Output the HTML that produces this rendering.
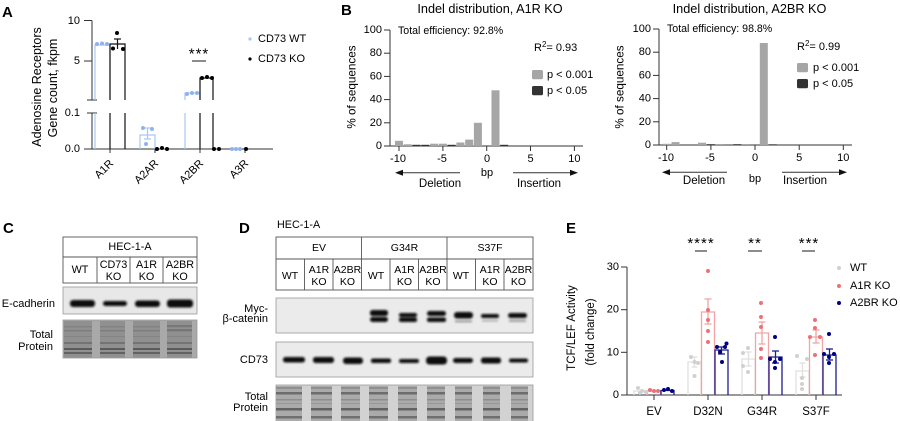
<!DOCTYPE html>
<html><head><meta charset="utf-8"><style>
html,body{margin:0;padding:0;background:#fff;}
svg{display:block;font-family:"Liberation Sans",Arial,sans-serif;}
</style></head><body>
<svg width="900" height="421" viewBox="0 0 900 421" xmlns="http://www.w3.org/2000/svg">
<defs>
<filter id="bl" x="-30%" y="-100%" width="160%" height="300%"><feGaussianBlur stdDeviation="1.1"/></filter>
<filter id="bl2" x="-30%" y="-100%" width="160%" height="300%"><feGaussianBlur stdDeviation="0.6"/></filter>
<pattern id="tpD" patternUnits="userSpaceOnUse" x="0" y="385" width="900" height="40">
<rect width="900" height="40" fill="#aaaaaa"/>
<rect y="2" width="900" height="2" fill="#909090"/>
<rect y="7" width="900" height="2.5" fill="#6c6c6c"/>
<rect y="14" width="900" height="1.5" fill="#8e8e8e"/>
<rect y="18" width="900" height="1" fill="#979797"/>
<rect y="23" width="900" height="2.5" fill="#626262"/>
<rect y="31" width="900" height="2.5" fill="#6f6f6f"/>
</pattern>
<pattern id="tpC" patternUnits="userSpaceOnUse" x="0" y="320" width="900" height="40">
<rect width="900" height="40" fill="#909090"/>
<rect y="6" width="900" height="1.5" fill="#838383"/>
<rect y="10" width="900" height="1.5" fill="#7e7e7e"/>
<rect y="16" width="900" height="1" fill="#848484"/>
<rect y="22" width="900" height="2" fill="#737373"/>
<rect y="28" width="900" height="2" fill="#5a5a5a"/>
<rect y="32" width="900" height="2" fill="#626262"/>
</pattern>
</defs>

<!-- ================= Panel A ================= -->
<text x="2" y="17" font-size="15" font-weight="bold">A</text>
<text transform="translate(37,87) rotate(-90)" text-anchor="middle" dominant-baseline="central" font-size="12.5">Adenosine Receptors</text>
<text transform="translate(53,88) rotate(-90)" text-anchor="middle" dominant-baseline="central" font-size="12.5">Gene count, fkpm</text>
<g stroke="#333" stroke-width="1" fill="none">
<line x1="92" y1="20.5" x2="92" y2="100"/>
<line x1="92" y1="113" x2="92" y2="149"/>
<line x1="84" y1="20.5" x2="92" y2="20.5"/>
<line x1="84" y1="61" x2="92" y2="61"/>
<line x1="87" y1="100" x2="97" y2="100"/>
<line x1="87" y1="113" x2="97" y2="113"/>
<line x1="84" y1="149" x2="273" y2="149"/>
<line x1="110" y1="149" x2="110" y2="153"/>
<line x1="155" y1="149" x2="155" y2="153"/>
<line x1="200" y1="149" x2="200" y2="153"/>
<line x1="245" y1="149" x2="245" y2="153"/>
</g>
<g font-size="11" text-anchor="end" dominant-baseline="central">
<text x="80" y="21">10</text>
<text x="80" y="61">5</text>
<text x="80" y="113">0.1</text>
<text x="80" y="149">0.0</text>
</g>
<g fill="none" stroke="#a9c6f5" stroke-width="1.2">
<polyline points="95,100 95,45 110,45 110,100"/>
<line x1="95" y1="113" x2="95" y2="149"/>
<polyline points="140,149 140,135 155,135 155,149"/>
<line x1="147.5" y1="128" x2="147.5" y2="139"/>
<line x1="144" y1="128" x2="151" y2="128"/>
<line x1="144" y1="139" x2="151" y2="139"/>
<polyline points="185,100 185,93 200,93 200,100"/>
<line x1="185" y1="113" x2="185" y2="149"/>
</g>
<g fill="none" stroke="#111" stroke-width="1.2">
<polyline points="110,100 110,44 125,44 125,100"/>
<line x1="110" y1="113" x2="110" y2="149"/>
<line x1="125" y1="113" x2="125" y2="149"/>
<line x1="117.5" y1="39" x2="117.5" y2="49"/>
<line x1="114" y1="39" x2="121" y2="39"/>
<polyline points="200,100 200,78 213,78 213,100"/>
<line x1="200" y1="113" x2="200" y2="149"/>
<line x1="213" y1="113" x2="213" y2="149"/>
</g>
<g fill="#8fb3f0">
<circle cx="97" cy="44" r="2"/><circle cx="102" cy="43.5" r="2"/><circle cx="107" cy="44" r="2"/>
<circle cx="143" cy="128" r="2"/><circle cx="152" cy="129" r="2"/><circle cx="146" cy="144" r="2"/>
<circle cx="187" cy="94" r="2"/><circle cx="192" cy="93" r="2"/><circle cx="197" cy="93" r="2"/>
<circle cx="232" cy="149" r="2"/><circle cx="236" cy="149" r="2"/><circle cx="240" cy="149" r="2"/>
</g>
<g fill="#000">
<circle cx="117" cy="33" r="2"/><circle cx="113" cy="48.5" r="2"/><circle cx="123" cy="49" r="2"/>
<circle cx="157" cy="149" r="2"/><circle cx="162" cy="148" r="2"/><circle cx="167" cy="149" r="2"/>
<circle cx="202" cy="78" r="2"/><circle cx="207" cy="77" r="2"/><circle cx="212" cy="78" r="2"/>
<circle cx="214" cy="149" r="2"/><circle cx="219" cy="149" r="2"/>
<circle cx="246" cy="149" r="2"/>
</g>
<text x="199" y="58.5" text-anchor="middle" font-size="15" letter-spacing="1">***</text>
<line x1="192" y1="61" x2="206" y2="61" stroke="#666" stroke-width="1.5"/>
<g font-size="11" text-anchor="end">
<text transform="translate(114,164) rotate(-45)">A1R</text>
<text transform="translate(159,164) rotate(-45)">A2AR</text>
<text transform="translate(204,164) rotate(-45)">A2BR</text>
<text transform="translate(249,164) rotate(-45)">A3R</text>
</g>
<circle cx="250" cy="39" r="1.6" fill="#a9c6f5"/>
<text x="258" y="39" font-size="11" dominant-baseline="central">CD73 WT</text>
<circle cx="250" cy="59" r="1.6" fill="#000"/>
<text x="258" y="59" font-size="11" dominant-baseline="central">CD73 KO</text>

<!-- ================= Panel B left ================= -->
<text x="341" y="15" font-size="15" font-weight="bold">B</text>
<text x="490" y="9" text-anchor="middle" dominant-baseline="central" font-size="12.7">Indel distribution, A1R KO</text>
<text transform="translate(352,87) rotate(-90)" text-anchor="middle" dominant-baseline="central" font-size="11.7">% of sequences</text>
<g stroke="#333" stroke-width="1">
<line x1="390" y1="30" x2="390" y2="146"/>
<line x1="384" y1="30" x2="390" y2="30"/>
<line x1="384" y1="53.2" x2="390" y2="53.2"/>
<line x1="384" y1="76.4" x2="390" y2="76.4"/>
<line x1="384" y1="99.6" x2="390" y2="99.6"/>
<line x1="384" y1="122.8" x2="390" y2="122.8"/>
<line x1="384" y1="146" x2="583" y2="146"/>
<line x1="399" y1="146" x2="399" y2="151"/>
<line x1="442.9" y1="146" x2="442.9" y2="151"/>
<line x1="486.7" y1="146" x2="486.7" y2="151"/>
<line x1="530.5" y1="146" x2="530.5" y2="151"/>
<line x1="574.4" y1="146" x2="574.4" y2="151"/>
</g>
<g font-size="11" text-anchor="end" dominant-baseline="central">
<text x="382" y="30">100</text><text x="382" y="53.2">80</text><text x="382" y="76.4">60</text>
<text x="382" y="99.6">40</text><text x="382" y="122.8">20</text><text x="382" y="146">0</text>
</g>
<g font-size="11" text-anchor="middle" dominant-baseline="central">
<text x="398" y="159">-10</text><text x="442" y="159">-5</text><text x="487" y="159">0</text>
<text x="530.5" y="159">5</text><text x="574.4" y="159">10</text>
</g>
<g fill="#a6a6a6">
<rect x="395" y="140.8" width="8" height="5.2"/>
<rect x="403.8" y="144.3" width="8" height="1.7"/>
<rect x="430.1" y="143.7" width="8" height="2.3"/>
<rect x="438.9" y="143.7" width="8" height="2.3"/>
<rect x="456.4" y="142.5" width="8" height="3.5"/>
<rect x="465.2" y="139.6" width="8" height="6.4"/>
<rect x="473.9" y="122.8" width="8" height="23.2"/>
<rect x="491.5" y="90.3" width="8" height="55.7"/>
</g>
<g fill="#333">
<rect x="412.5" y="144.8" width="8" height="1.2"/>
<rect x="421.3" y="144.8" width="8" height="1.2"/>
<rect x="447.6" y="144.8" width="8" height="1.2"/>
<rect x="500.2" y="144.8" width="8" height="1.2"/>
</g>
<text x="398" y="31" font-size="10.6" dominant-baseline="central">Total efficiency: 92.8%</text>
<text x="534" y="48" font-size="11" dominant-baseline="central">R<tspan font-size="8" dy="-4">2</tspan><tspan dy="4">= 0.93</tspan></text>
<rect x="532" y="70" width="11" height="9.3" rx="1.5" fill="#a6a6a6"/>
<text x="547" y="75" font-size="11" dominant-baseline="central">p &lt; 0.001</text>
<rect x="532" y="86" width="11" height="9.3" rx="1.5" fill="#333"/>
<text x="547" y="91" font-size="11" dominant-baseline="central">p &lt; 0.05</text>
<line x1="400" y1="172.7" x2="460" y2="172.7" stroke="#333" stroke-width="1"/>
<polygon points="395,172.7 403,169.7 403,175.7" fill="#111"/>
<line x1="513" y1="172.7" x2="573" y2="172.7" stroke="#333" stroke-width="1"/>
<polygon points="578,172.7 570,169.7 570,175.7" fill="#111"/>
<text x="487" y="173" font-size="11" text-anchor="middle" dominant-baseline="central">bp</text>
<text x="440" y="184" font-size="11.5" text-anchor="middle" dominant-baseline="central">Deletion</text>
<text x="539" y="184" font-size="11.5" text-anchor="middle" dominant-baseline="central">Insertion</text>

<!-- ================= Panel B right ================= -->
<text x="749.5" y="9" text-anchor="middle" dominant-baseline="central" font-size="12.7">Indel distribution, A2BR KO</text>
<text transform="translate(620,87) rotate(-90)" text-anchor="middle" dominant-baseline="central" font-size="11.7">% of sequences</text>
<g stroke="#333" stroke-width="1">
<line x1="659" y1="29" x2="659" y2="145"/>
<line x1="653" y1="29" x2="659" y2="29"/>
<line x1="653" y1="52.2" x2="659" y2="52.2"/>
<line x1="653" y1="75.4" x2="659" y2="75.4"/>
<line x1="653" y1="98.6" x2="659" y2="98.6"/>
<line x1="653" y1="121.8" x2="659" y2="121.8"/>
<line x1="653" y1="145" x2="852" y2="145"/>
<line x1="666.7" y1="145" x2="666.7" y2="150"/>
<line x1="710.9" y1="145" x2="710.9" y2="150"/>
<line x1="755" y1="145" x2="755" y2="150"/>
<line x1="799.2" y1="145" x2="799.2" y2="150"/>
<line x1="843.3" y1="145" x2="843.3" y2="150"/>
</g>
<g font-size="11" text-anchor="end" dominant-baseline="central">
<text x="651" y="29">100</text><text x="651" y="52.2">80</text><text x="651" y="75.4">60</text>
<text x="651" y="98.6">40</text><text x="651" y="121.8">20</text><text x="651" y="145">0</text>
</g>
<g font-size="11" text-anchor="middle" dominant-baseline="central">
<text x="666" y="158">-10</text><text x="710" y="158">-5</text><text x="755" y="158">0</text>
<text x="799.2" y="158">5</text><text x="843.3" y="158">10</text>
</g>
<g fill="#a6a6a6">
<rect x="662.7" y="143.8" width="8" height="1.2"/>
<rect x="671.5" y="142.1" width="8" height="2.9"/>
<rect x="698" y="142.7" width="8" height="2.3"/>
<rect x="715.7" y="144" width="8" height="1"/>
<rect x="742.2" y="144" width="8" height="1"/>
<rect x="759.8" y="43" width="8" height="102"/>
</g>
<g fill="#333">
<rect x="706.9" y="144.2" width="8" height="0.8"/>
<rect x="733.3" y="144.2" width="8" height="0.8"/>
<rect x="768.7" y="144.3" width="8" height="0.7"/>
</g>
<text x="667" y="29" font-size="10.6" dominant-baseline="central">Total efficiency: 98.8%</text>
<text x="797" y="47" font-size="11" dominant-baseline="central">R<tspan font-size="8" dy="-4">2</tspan><tspan dy="4">= 0.99</tspan></text>
<rect x="797" y="63" width="11" height="9.3" rx="1.5" fill="#a6a6a6"/>
<text x="813" y="68" font-size="11" dominant-baseline="central">p &lt; 0.001</text>
<rect x="797" y="79" width="11" height="9.3" rx="1.5" fill="#333"/>
<text x="813" y="84" font-size="11" dominant-baseline="central">p &lt; 0.05</text>
<line x1="667" y1="172.3" x2="727" y2="172.3" stroke="#333" stroke-width="1"/>
<polygon points="662,172.3 670,169.3 670,175.3" fill="#111"/>
<line x1="782" y1="172.3" x2="842" y2="172.3" stroke="#333" stroke-width="1"/>
<polygon points="847,172.3 839,169.3 839,175.3" fill="#111"/>
<text x="755" y="179" font-size="11" text-anchor="middle" dominant-baseline="central">bp</text>
<text x="704" y="181" font-size="11.5" text-anchor="middle" dominant-baseline="central">Deletion</text>
<text x="805" y="181" font-size="11.5" text-anchor="middle" dominant-baseline="central">Insertion</text>

<!-- ================= Panel C ================= -->
<text x="3" y="233" font-size="15" font-weight="bold">C</text>
<g fill="none" stroke="#555" stroke-width="0.9">
<rect x="63" y="237" width="134" height="46"/>
<line x1="63" y1="257" x2="197" y2="257"/>
<line x1="97" y1="257" x2="97" y2="283"/>
<line x1="130" y1="257" x2="130" y2="283"/>
<line x1="163" y1="257" x2="163" y2="283"/>
</g>
<g font-size="10.8" text-anchor="middle" dominant-baseline="central">
<text x="130" y="247">HEC-1-A</text>
<text x="80" y="270">WT</text>
<text x="113.5" y="265">CD73</text><text x="113.5" y="277">KO</text>
<text x="146.5" y="265">A1R</text><text x="146.5" y="277">KO</text>
<text x="180" y="265">A2BR</text><text x="180" y="277">KO</text>
</g>
<rect x="63" y="287" width="134" height="27" fill="#e8e8e8" stroke="#999" stroke-width="0.8"/>
<g fill="#111" filter="url(#bl)">
<rect x="70" y="300" width="25" height="7" rx="3"/>
<rect x="103" y="301" width="24" height="5" rx="2.5"/>
<rect x="135" y="300.5" width="25" height="6.5" rx="3"/>
<rect x="167" y="299.5" width="26" height="8" rx="3"/>
</g>
<rect x="63" y="320" width="134" height="38" fill="#a9a9a9" stroke="#999" stroke-width="0.8"/>
<g fill="url(#tpC)">
<rect x="64" y="321" width="28" height="36.5"/>
<rect x="100" y="321" width="25" height="36.5"/>
<rect x="133" y="321" width="27" height="36.5"/>
<rect x="167" y="321" width="25" height="36.5"/>
</g>
<g fill="#666" opacity="0.6">
<rect x="167" y="325" width="25" height="1.5"/>
<rect x="167" y="329" width="25" height="1.5"/>
</g>
<g font-size="11" text-anchor="end" dominant-baseline="central">
<text x="55" y="304">E-cadherin</text>
<text x="53" y="335">Total</text>
<text x="53" y="347">Protein</text>
</g>

<!-- ================= Panel D ================= -->
<text x="239" y="233" font-size="15" font-weight="bold">D</text>
<text x="277" y="225" font-size="10.8" dominant-baseline="central">HEC-1-A</text>
<g fill="none" stroke="#555" stroke-width="0.9">
<rect x="276" y="237" width="257" height="53"/>
<line x1="276" y1="259" x2="533" y2="259"/>
<line x1="361.5" y1="237" x2="361.5" y2="290"/>
<line x1="447" y1="237" x2="447" y2="290"/>
<line x1="304.5" y1="259" x2="304.5" y2="290"/>
<line x1="333" y1="259" x2="333" y2="290"/>
<line x1="390" y1="259" x2="390" y2="290"/>
<line x1="418.5" y1="259" x2="418.5" y2="290"/>
<line x1="475.5" y1="259" x2="475.5" y2="290"/>
<line x1="504" y1="259" x2="504" y2="290"/>
</g>
<g font-size="10.5" text-anchor="middle" dominant-baseline="central">
<text x="319" y="248">EV</text><text x="404.5" y="248">G34R</text><text x="490" y="248">S37F</text>
<text x="290" y="276">WT</text>
<text x="319" y="270">A1R</text><text x="319" y="282">KO</text>
<text x="347.5" y="270">A2BR</text><text x="347.5" y="282">KO</text>
<text x="376" y="276">WT</text>
<text x="404.5" y="270">A1R</text><text x="404.5" y="282">KO</text>
<text x="433" y="270">A2BR</text><text x="433" y="282">KO</text>
<text x="461" y="276">WT</text>
<text x="490" y="270">A1R</text><text x="490" y="282">KO</text>
<text x="518.5" y="270">A2BR</text><text x="518.5" y="282">KO</text>
</g>
<rect x="276" y="298" width="257" height="35" fill="#ebebeb" stroke="#999" stroke-width="0.8"/>
<g fill="#111" filter="url(#bl)">
<rect x="370" y="310" width="18" height="6" rx="2.5"/>
<rect x="370" y="317" width="18" height="5" rx="2.5"/>
<rect x="399" y="313" width="18" height="4" rx="2"/>
<rect x="399" y="317.5" width="18" height="4.5" rx="2"/>
<rect x="427" y="311" width="19" height="5" rx="2.5"/>
<rect x="427" y="317.5" width="19" height="4.5" rx="2"/>
<rect x="454" y="312" width="19" height="6.5" rx="3"/>
<rect x="481" y="314" width="18" height="4" rx="2"/>
<rect x="508" y="313" width="19" height="5" rx="2.5"/>
</g>
<g fill="#777" filter="url(#bl)" opacity="0.6">
<rect x="455" y="320" width="17" height="2.5"/>
<rect x="509" y="319.5" width="17" height="2.5"/>
<rect x="482" y="320" width="16" height="1.5"/>
</g>
<rect x="276" y="342" width="257" height="35" fill="#ebebeb" stroke="#999" stroke-width="0.8"/>
<g fill="#111" filter="url(#bl)">
<rect x="283" y="357" width="22" height="5.5" rx="2.5"/>
<rect x="313" y="357" width="21" height="6" rx="2.5"/>
<rect x="343" y="357.5" width="20" height="6.5" rx="3"/>
<rect x="371" y="358.5" width="20" height="4.5" rx="2"/>
<rect x="399" y="359" width="20" height="4" rx="2"/>
<rect x="426" y="356.5" width="21" height="8" rx="3.5"/>
<rect x="453" y="358" width="20" height="5" rx="2.5"/>
<rect x="481" y="357.5" width="20" height="6" rx="2.5"/>
<rect x="509" y="358.5" width="19" height="4" rx="2"/>
</g>
<rect x="276" y="385" width="257" height="37" fill="#d2d2d2" stroke="#999" stroke-width="0.8"/>
<g fill="url(#tpD)">
<rect x="276" y="386" width="26" height="35"/>
<rect x="311" y="386" width="21" height="35"/>
<rect x="341" y="386" width="19" height="35"/>
<rect x="369" y="386" width="19" height="35"/>
<rect x="398" y="386" width="19" height="35"/>
<rect x="427" y="386" width="18" height="35"/>
<rect x="455" y="386" width="17" height="35"/>
<rect x="483" y="386" width="17" height="35"/>
<rect x="511" y="386" width="17" height="35"/>
</g>
<g font-size="11" text-anchor="end" dominant-baseline="central">
<text x="268" y="309">Myc-</text>
<text x="268" y="319">β-catenin</text>
<text x="268" y="360">CD73</text>
<text x="268" y="397">Total</text>
<text x="268" y="408">Protein</text>
</g>

<!-- ================= Panel E ================= -->
<text x="566" y="233" font-size="15" font-weight="bold">E</text>
<text transform="translate(572,328) rotate(-90)" text-anchor="middle" dominant-baseline="central" font-size="11.5">TCF/LEF Activity</text>
<text transform="translate(591,332) rotate(-90)" text-anchor="middle" dominant-baseline="central" font-size="11.5">(fold change)</text>
<g stroke="#333" stroke-width="1">
<line x1="627" y1="267" x2="627" y2="395"/>
<line x1="621" y1="267" x2="627" y2="267"/>
<line x1="621" y1="309.7" x2="627" y2="309.7"/>
<line x1="621" y1="352.3" x2="627" y2="352.3"/>
<line x1="621" y1="395" x2="842" y2="395"/>
<line x1="654" y1="395" x2="654" y2="400"/>
<line x1="708" y1="395" x2="708" y2="400"/>
<line x1="762" y1="395" x2="762" y2="400"/>
<line x1="816" y1="395" x2="816" y2="400"/>
</g>
<g font-size="11" text-anchor="end" dominant-baseline="central">
<text x="619" y="267">30</text><text x="619" y="309.7">20</text><text x="619" y="352.3">10</text><text x="619" y="395">0</text>
</g>
<g font-size="11.5" text-anchor="middle" dominant-baseline="central">
<text x="654" y="412">EV</text><text x="708" y="412">D32N</text><text x="762" y="412">G34R</text><text x="816" y="412">S37F</text>
</g>
<g fill="none" stroke="#e0e0e0" stroke-width="1.3">
<polyline points="634,395 634,391 647,391 647,395"/>
<polyline points="688,395 688,362 701,362 701,395"/>
<polyline points="742,395 742,359 755,359 755,395"/>
<polyline points="796,395 796,371 809,371 809,395"/>
<line x1="694.5" y1="357" x2="694.5" y2="367"/><line x1="691.5" y1="357" x2="697.5" y2="357"/><line x1="691.5" y1="367" x2="697.5" y2="367"/>
<line x1="748.5" y1="352" x2="748.5" y2="366"/><line x1="745.5" y1="352" x2="751.5" y2="352"/><line x1="745.5" y1="366" x2="751.5" y2="366"/>
<line x1="802.5" y1="363" x2="802.5" y2="377"/><line x1="799.5" y1="363" x2="805.5" y2="363"/><line x1="799.5" y1="377" x2="805.5" y2="377"/>
</g>
<g fill="none" stroke="#f2a3a6" stroke-width="1.3">
<polyline points="647.5,395 647.5,391 660.5,391 660.5,395"/>
<polyline points="701.5,395 701.5,312 714.5,312 714.5,395"/>
<polyline points="755.5,395 755.5,333 768.5,333 768.5,395"/>
<polyline points="809.5,395 809.5,337 822.5,337 822.5,395"/>
<line x1="708" y1="299" x2="708" y2="324"/><line x1="704.5" y1="299" x2="711.5" y2="299"/><line x1="704.5" y1="324" x2="711.5" y2="324"/>
<line x1="762" y1="322" x2="762" y2="344"/><line x1="758.5" y1="322" x2="765.5" y2="322"/><line x1="758.5" y1="344" x2="765.5" y2="344"/>
<line x1="816" y1="330" x2="816" y2="343"/><line x1="812.5" y1="330" x2="819.5" y2="330"/><line x1="812.5" y1="343" x2="819.5" y2="343"/>
</g>
<g fill="none" stroke="#1e1e90" stroke-width="1.3">
<polyline points="661,395 661,390.5 674,390.5 674,395"/>
<polyline points="715,395 715,350 728,350 728,395"/>
<polyline points="769,395 769,357 782,357 782,395"/>
<polyline points="823,395 823,355 836,355 836,395"/>
<line x1="721.5" y1="347" x2="721.5" y2="354"/><line x1="718" y1="347" x2="725" y2="347"/><line x1="718" y1="354" x2="725" y2="354"/>
<line x1="775.5" y1="351" x2="775.5" y2="363"/><line x1="772" y1="351" x2="779" y2="351"/><line x1="772" y1="363" x2="779" y2="363"/>
<line x1="829.5" y1="349" x2="829.5" y2="360"/><line x1="826" y1="349" x2="833" y2="349"/><line x1="826" y1="360" x2="833" y2="360"/>
</g>
<g fill="#d0d0d0">
<circle cx="638" cy="388" r="2"/><circle cx="642" cy="391" r="2"/><circle cx="646" cy="392" r="2"/><circle cx="640" cy="393" r="2"/>
<circle cx="691" cy="357" r="2"/><circle cx="694.5" cy="362" r="2"/><circle cx="698" cy="363" r="2"/><circle cx="694.5" cy="376" r="2"/>
<circle cx="743" cy="353" r="2"/><circle cx="748" cy="348" r="2"/><circle cx="743" cy="366" r="2"/><circle cx="748" cy="372" r="2"/>
<circle cx="797" cy="356" r="2"/><circle cx="807" cy="359" r="2"/><circle cx="802" cy="378" r="2"/><circle cx="802" cy="384" r="2"/><circle cx="802" cy="389" r="2"/>
</g>
<g fill="#ec7176">
<circle cx="650" cy="390" r="2"/><circle cx="654" cy="391" r="2"/><circle cx="658" cy="391" r="2"/>
<circle cx="708" cy="271" r="2"/><circle cx="708" cy="310" r="2"/><circle cx="708" cy="320" r="2"/><circle cx="708" cy="331" r="2"/><circle cx="708" cy="342" r="2"/>
<circle cx="761" cy="303" r="2"/><circle cx="761" cy="317" r="2"/><circle cx="761" cy="327" r="2"/><circle cx="761" cy="349" r="2"/><circle cx="761" cy="358" r="2"/>
<circle cx="815" cy="320" r="2"/><circle cx="815" cy="328" r="2"/><circle cx="810" cy="337" r="2"/><circle cx="820" cy="337" r="2"/><circle cx="815" cy="355" r="2"/>
</g>
<g fill="#000080">
<circle cx="664" cy="390" r="2"/><circle cx="668" cy="389" r="2"/><circle cx="672" cy="391" r="2"/>
<circle cx="717" cy="347" r="2"/><circle cx="726.5" cy="343.5" r="2"/><circle cx="720" cy="352" r="2"/><circle cx="722" cy="362" r="2"/><circle cx="725" cy="347" r="2"/>
<circle cx="775" cy="337" r="2"/><circle cx="770" cy="359" r="2"/><circle cx="775" cy="362" r="2"/><circle cx="780" cy="359" r="2"/><circle cx="775" cy="368" r="2"/>
<circle cx="829" cy="334" r="2"/><circle cx="824" cy="354" r="2"/><circle cx="834" cy="354" r="2"/><circle cx="829" cy="357" r="2"/><circle cx="829" cy="363" r="2"/>
</g>
<g font-size="15" text-anchor="middle" letter-spacing="1">
<text x="701" y="248">****</text>
<text x="755" y="248">**</text>
<text x="809" y="248">***</text>
</g>
<g stroke="#666" stroke-width="1.5">
<line x1="695" y1="251" x2="707" y2="251"/>
<line x1="748" y1="251" x2="762" y2="251"/>
<line x1="802" y1="251" x2="815" y2="251"/>
</g>
<circle cx="839" cy="268" r="2" fill="#d0d0d0"/>
<text x="850" y="268" font-size="11" dominant-baseline="central">WT</text>
<circle cx="839" cy="286" r="2" fill="#ec7176"/>
<text x="850" y="286" font-size="11" dominant-baseline="central">A1R KO</text>
<circle cx="839" cy="303" r="2" fill="#000080"/>
<text x="850" y="303" font-size="11" dominant-baseline="central">A2BR KO</text>
</svg>
</body></html>
